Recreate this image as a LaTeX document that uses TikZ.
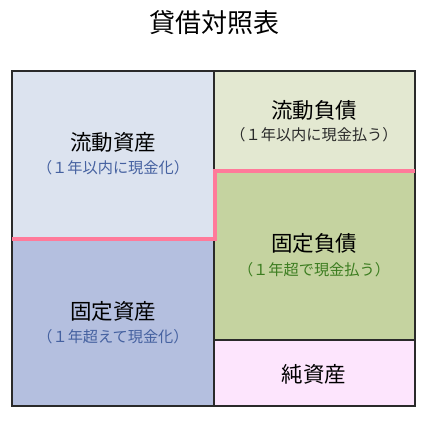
\documentclass[tikz,border=0pt]{standalone}
\usepackage{fontspec}
\setmainfont{Noto Sans CJK JP}
\definecolor{cLT}{HTML}{DCE3EF}
\definecolor{cLB}{HTML}{B4BFDF}
\definecolor{cRT}{HTML}{E3E8D1}
\definecolor{cRM}{HTML}{C5D3A0}
\definecolor{cRB}{HTML}{FDE5FD}
\definecolor{cPink}{HTML}{FF7A9A}
\definecolor{cBlueT}{HTML}{4561A0}
\definecolor{cGreenT}{HTML}{3C7D20}
\definecolor{cDark}{HTML}{2A2A2A}
\begin{document}
\begin{tikzpicture}[x=1pt,y=-1pt,
  cell/.style={draw=cDark,line width=1.3pt},
  head/.style={font=\fontsize{21.5}{24}\selectfont,text=black,inner sep=0pt},
  sub/.style={font=\fontsize{15.2}{18}\selectfont,inner sep=0pt},
  divider/.style={draw=cPink,line width=4pt}]
\useasboundingbox (0,0) rectangle (428,420);
\node[font=\fontsize{26}{30}\selectfont,inner sep=0pt] (title) at (214,23) {貸借対照表};
% cells
\fill[cLT] (12,71) rectangle (214,239);
\fill[cLB] (12,239) rectangle (214,406);
\fill[cRT] (214,71) rectangle (415,171);
\fill[cRM] (214,171) rectangle (415,340);
\fill[cRB] (214,340) rectangle (415,406);
\draw[cell] (12,71) rectangle (415,406);
\draw[cell] (214,71) -- (214,406);
\draw[cell] (214,340) -- (415,340);
% pink divider
\coordinate (pa) at (12,239);
\coordinate (pb) at (215,239);
\coordinate (pc) at (215,171);
\coordinate (pd) at (415,171);
\draw[divider] (pa) -- (pb) -- (pc) -- (pd);
% labels
\node[head] (ca) at (113,142) {流動資産};
\node[sub,text=cBlueT] (cas) at (113,168) {（１年以内に現金化）};
\node[head] (fa) at (113,311) {固定資産};
\node[sub,text=cBlueT] (fas) at (113,337) {（１年超えて現金化）};
\node[head] (cl) at (314,110) {流動負債};
\node[sub,text=cDark] (cls) at (314,135) {（１年以内に現金払う）};
\node[head] (fl) at (314,243) {固定負債};
\node[sub,text=cGreenT] (fls) at (314,270) {（１年超で現金払う）};
\node[head] (na) at (314,374) {純資産};
\end{tikzpicture}
\end{document}
